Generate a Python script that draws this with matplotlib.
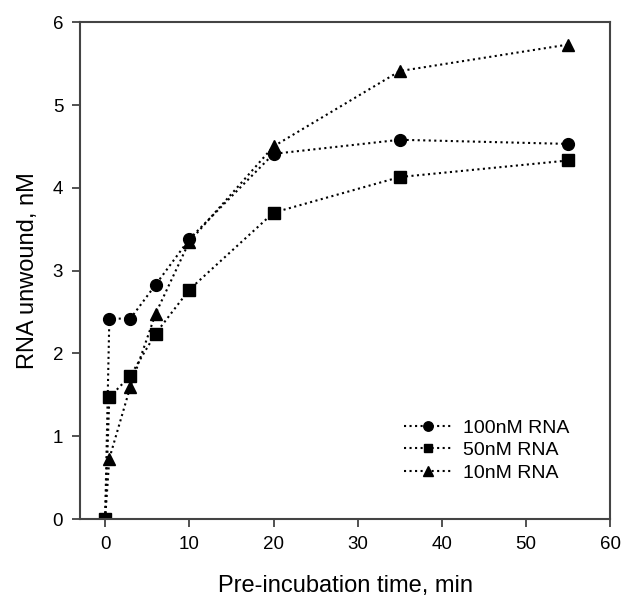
import matplotlib
matplotlib.use("Agg")
import matplotlib.pyplot as plt

plt.rcParams['font.family'] = ['Liberation Sans', 'DejaVu Sans']

time_min = [0, 0.5, 3, 6, 10, 20, 35, 55]
rna100 = [0, 2.42, 2.42, 2.83, 3.38, 4.41, 4.58, 4.53]
rna50 = [0, 1.47, 1.73, 2.24, 2.77, 3.70, 4.13, 4.33]
rna10 = [0, 0.73, 1.60, 2.48, 3.35, 4.50, 5.41, 5.73]

fig = plt.figure(figsize=(6.24, 6), dpi=100)
ax = fig.add_axes([0.128, 0.135, 0.85, 0.828])

ax.plot(time_min, rna100, ':', color='black', marker='o', markersize=8.5, lw=1.5, label='100nM RNA')
ax.plot(time_min, rna50, ':', color='black', marker='s', markersize=8, lw=1.5, label='50nM RNA')
ax.plot(time_min, rna10, ':', color='black', marker='^', markersize=9, lw=1.5, label='10nM RNA')

ax.set_xlim(-3, 60)
ax.set_ylim(0, 6)
ax.set_xticks([0, 10, 20, 30, 40, 50, 60])
ax.set_yticks([0, 1, 2, 3, 4, 5, 6])
ax.tick_params(direction='out', length=6, width=1.2, labelsize=13.5, color='#333333', pad=6)
for s in ax.spines.values():
    s.set_color('#444444')
    s.set_linewidth(1.5)

ax.set_xlabel('Pre-incubation time, min', fontsize=17, labelpad=16)
ax.set_ylabel('RNA unwound, nM', fontsize=17, labelpad=10)

ax.legend(loc='lower right', bbox_to_anchor=(0.955, 0.04), frameon=False, fontsize=14,
          handlelength=2.4, labelspacing=0.25, markerscale=0.8, handletextpad=0.6)

fig.savefig('out.png', dpi=100)
